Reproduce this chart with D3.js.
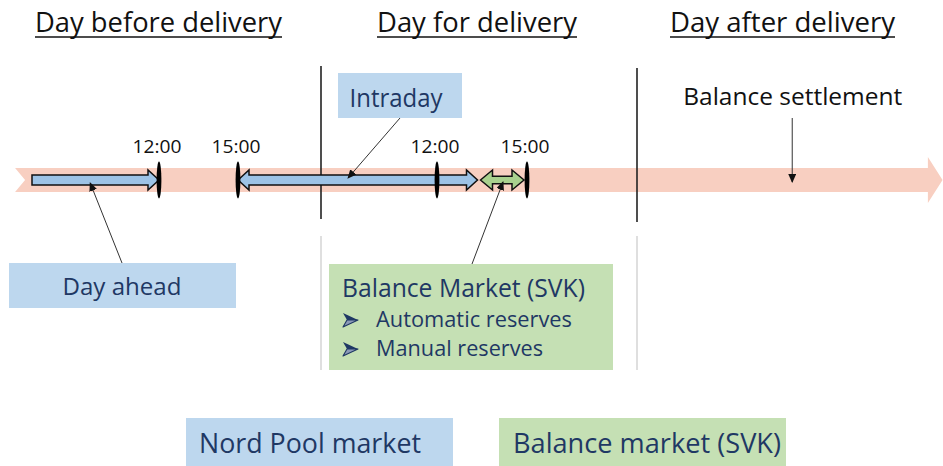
<!DOCTYPE html>
<html>
<head>
<meta charset="utf-8">
<script src="https://cdn.jsdelivr.net/npm/d3@7"></script>
<style>
  body { margin: 0; background: #fff; }
  svg { display: block; }
</style>
</head>
<body>
<svg id="chart" width="943" height="466"></svg>
<script>
// Data (hours are relative to midnight at the start of the delivery day)
const dayHeaders = ["Day before delivery", "Day for delivery", "Day after delivery"];
const dayBoundaries = [0, 24];
const tickHours = [-12, -9, 12, 15];
const tickLabels = ["12:00", "15:00", "12:00", "15:00"];
const marketNames = ["Day ahead", "Intraday", "Balance Market (SVK)"];
const marketStart = [-24, -9, 13.45];
const marketEnd = [-12, 13.35, 14.9];
const marketKind = ["nordpool", "nordpool", "svk"];
const marketTwoWay = [false, true, true];
const reserveTypes = ["Automatic reserves", "Manual reserves"];
const settlementLabel = "Balance settlement";
const settlementHour = 36.7;
const legendLabels = ["Nord Pool market", "Balance market (SVK)"];
const legendKinds = ["nordpool", "svk"];

// Layout / styles
const midY = 180;
const navy = "#1f3864";
const bandColor = "#f8cfc1";
const fonts = "'Open Sans', 'Noto Sans', sans-serif";
const kindColors = {
  nordpool: { box: "#bdd7ee", arrow: "#9dc3e6" },
  svk: { box: "#c5e0b4", arrow: "#a9d18e" },
};

// piecewise time scale – the original diagram is schematic, not linear in time
const x = d3.scaleLinear()
  .domain([-24, -12, -9, 0, 12, 15, 24])
  .range([32, 159, 238, 321, 437, 527, 637]);

const svg = d3.select("#chart");

// marker for the thin pointer lines
svg.append("defs")
  .append("marker")
  .attr("id", "tip")
  .attr("markerUnits", "userSpaceOnUse")
  .attr("markerWidth", 9)
  .attr("markerHeight", 8)
  .attr("refX", 8)
  .attr("refY", 4)
  .attr("orient", "auto")
  .append("path")
  .attr("d", "M0,0 L9,4 L0,8 Z")
  .attr("fill", "#111");

// Headers
const headerLayout = [
  { x: 35, w: 247 },
  { x: 377, w: 200 },
  { x: 670, w: 225 },
];
const headers = svg.append("g").attr("class", "headers");
dayHeaders.forEach((h, i) => {
  const l = headerLayout[i];
  headers.append("text")
    .attr("x", l.x)
    .attr("y", 32)
    .attr("textLength", l.w)
    .attr("lengthAdjust", "spacingAndGlyphs")
    .style("font-family", fonts)
    .style("font-size", "27px")
    .attr("fill", "#111")
    .text(h);
  headers.append("line")
    .attr("x1", l.x)
    .attr("x2", l.x + l.w)
    .attr("y1", 37)
    .attr("y2", 37)
    .attr("stroke", "#111")
    .attr("stroke-width", 1.6);
});

// Timeline band with notched tail and arrow head
const bandTop = midY - 12, bandBot = midY + 12;
const bx0 = x(-25.6), bxEnd = x(47.8), bxTip = x(49);
svg.append("path")
  .attr("class", "band")
  .attr("d", `M${bx0},${bandTop} L${bxEnd},${bandTop} L${bxEnd},${midY - 23} L${bxTip},${midY}
    L${bxEnd},${midY + 23} L${bxEnd},${bandBot} L${bx0},${bandBot} L${bx0 + 10},${midY} Z`)
  .attr("fill", bandColor);

// Day separators
const sepGroup = svg.append("g").attr("class", "separators");
dayBoundaries.forEach((h, i) => {
  sepGroup.append("line")
    .attr("x1", x(h)).attr("x2", x(h))
    .attr("y1", 66 + i * 2).attr("y2", 219 + i * 3)
    .attr("stroke", "#222").attr("stroke-width", 1.6);
  sepGroup.append("line")
    .attr("x1", x(h)).attr("x2", x(h))
    .attr("y1", 236).attr("y2", 370)
    .attr("stroke", "#d4d4d4").attr("stroke-width", 1.5);
});

// Block arrows for the market windows
function blockArrow(x0, x1, y, hs, hh, hl, twoWay) {
  if (!twoWay) {
    return `M${x0},${y - hs} L${x1 - hl},${y - hs} L${x1 - hl},${y - hh} L${x1},${y}
      L${x1 - hl},${y + hh} L${x1 - hl},${y + hs} L${x0},${y + hs} Z`;
  }
  return `M${x0},${y} L${x0 + hl},${y - hh} L${x0 + hl},${y - hs} L${x1 - hl},${y - hs}
    L${x1 - hl},${y - hh} L${x1},${y} L${x1 - hl},${y + hh} L${x1 - hl},${y + hs}
    L${x0 + hl},${y + hs} L${x0 + hl},${y + hh} Z`;
}

const arrows = svg.append("g").attr("class", "marketArrows");
marketNames.forEach((m, i) => {
  const svk = marketKind[i] === "svk";
  arrows.append("path")
    .attr("d", blockArrow(x(marketStart[i]), x(marketEnd[i]), midY,
      svk ? 3.8 : 5, 10, svk ? 12 : 11, marketTwoWay[i]))
    .attr("fill", kindColors[marketKind[i]].arrow)
    .attr("stroke", "#111")
    .attr("stroke-width", 1.5)
    .attr("stroke-linejoin", "miter");
});

// Clock ticks
const ticks = svg.append("g").attr("class", "ticks");
tickHours.forEach((h, i) => {
  ticks.append("ellipse")
    .attr("cx", x(h))
    .attr("cy", midY)
    .attr("rx", 2.4)
    .attr("ry", 18.5)
    .attr("fill", "#000");
  ticks.append("text")
    .attr("x", x(h) - 2)
    .attr("y", 153)
    .attr("text-anchor", "middle")
    .attr("textLength", 49)
    .attr("lengthAdjust", "spacingAndGlyphs")
    .style("font-family", fonts)
    .style("font-size", "18px")
    .attr("fill", "#111")
    .text(tickLabels[i]);
});

// Market boxes and pointer lines
const boxLayout = [
  { x: 9, y: 263, w: 227, h: 45, tx: 122, ty: 295, tw: 119, fs: 24, anchor: "middle",
    from: [122, 263], toHour: -18.5, toY: 183 },
  { x: 338, y: 73, w: 124, h: 45, tx: 396, ty: 107, tw: 93, fs: 25, anchor: "middle",
    from: [400, 118], toHour: 2.8, toY: 178 },
  { x: 329, y: 264, w: 284, h: 106, tx: 342, ty: 297, tw: 243, fs: 25, anchor: "start",
    from: [472, 264], toHour: 14.2, toY: 182 },
];
const boxes = svg.append("g").attr("class", "marketBoxes");
marketNames.forEach((m, i) => {
  const b = boxLayout[i];
  boxes.append("rect")
    .attr("x", b.x).attr("y", b.y)
    .attr("width", b.w).attr("height", b.h)
    .attr("fill", kindColors[marketKind[i]].box);
  boxes.append("text")
    .attr("x", b.tx).attr("y", b.ty)
    .attr("text-anchor", b.anchor)
    .attr("textLength", b.tw)
    .attr("lengthAdjust", "spacingAndGlyphs")
    .style("font-family", fonts)
    .style("font-size", b.fs + "px")
    .attr("fill", navy)
    .text(m);
  svg.append("line")
    .attr("x1", b.from[0]).attr("y1", b.from[1])
    .attr("x2", x(b.toHour)).attr("y2", b.toY)
    .attr("stroke", "#333")
    .attr("stroke-width", 1)
    .attr("marker-end", "url(#tip)");
});

// Reserve types (arrow bullets inside the SVK box)
const reserveWidths = [196, 167];
reserveTypes.forEach((r, i) => {
  const y = 327 + i * 29;
  // bullet: notched arrowhead, upper half dark, lower half lighter
  boxes.append("path")
    .attr("d", `M343,${y - 14} L358,${y - 7} L347,${y - 7} Z`)
    .attr("fill", navy);
  boxes.append("path")
    .attr("d", `M343,${y} L358,${y - 7} L347,${y - 7} Z`)
    .attr("fill", "#8c9ab8")
    .attr("stroke", navy)
    .attr("stroke-width", 1.1)
    .attr("stroke-linejoin", "round");
  boxes.append("text")
    .attr("x", 376).attr("y", y)
    .attr("textLength", reserveWidths[i])
    .attr("lengthAdjust", "spacingAndGlyphs")
    .style("font-family", fonts)
    .style("font-size", "21px")
    .attr("fill", navy)
    .text(r);
});

// Balance settlement
svg.append("text")
  .attr("x", x(settlementHour) + 0.5)
  .attr("y", 105)
  .attr("text-anchor", "middle")
  .attr("textLength", 219)
  .attr("lengthAdjust", "spacingAndGlyphs")
  .style("font-family", fonts)
  .style("font-size", "24px")
  .attr("fill", "#111")
  .text(settlementLabel);
svg.append("line")
  .attr("x1", x(settlementHour)).attr("x2", x(settlementHour))
  .attr("y1", 118).attr("y2", 182)
  .attr("stroke", "#333")
  .attr("stroke-width", 1)
  .attr("marker-end", "url(#tip)");

// Legend
const legendLayout = [
  { x: 186, w: 267, tx: 199, tw: 222 },
  { x: 499, w: 287, tx: 513, tw: 268 },
];
const legend = svg.append("g").attr("class", "legend");
legendLabels.forEach((l, i) => {
  const p = legendLayout[i];
  legend.append("rect")
    .attr("x", p.x).attr("y", 418)
    .attr("width", p.w).attr("height", 48)
    .attr("fill", kindColors[legendKinds[i]].box);
  legend.append("text")
    .attr("x", p.tx).attr("y", 453)
    .attr("textLength", p.tw)
    .attr("lengthAdjust", "spacingAndGlyphs")
    .style("font-family", fonts)
    .style("font-size", "27px")
    .attr("fill", navy)
    .text(l);
});
</script>
</body>
</html>
